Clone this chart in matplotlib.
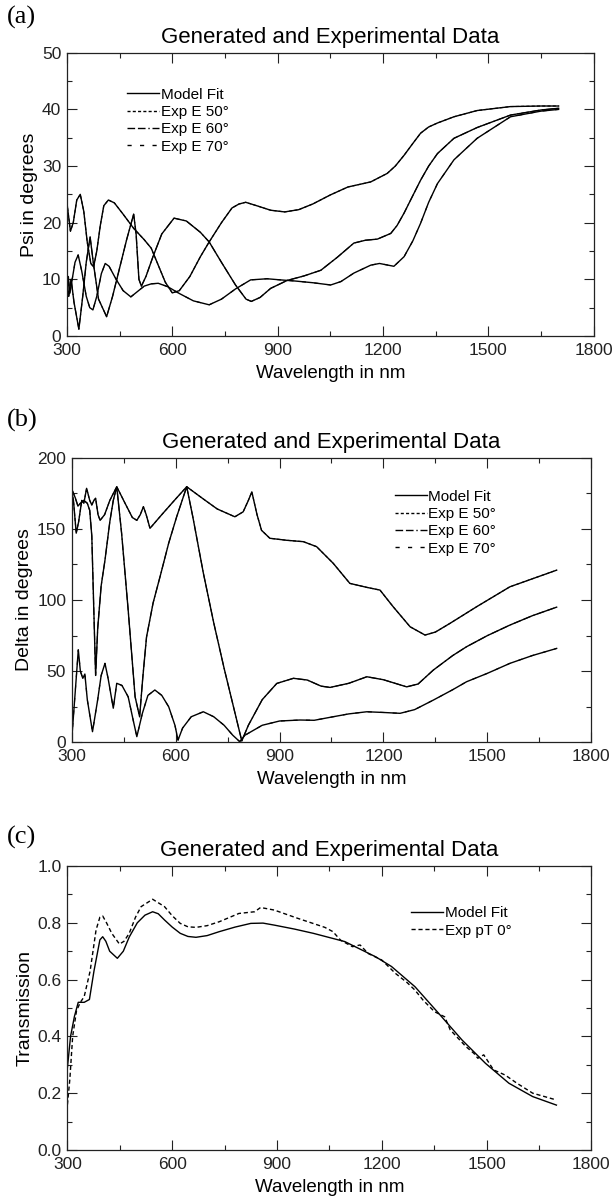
import matplotlib
matplotlib.use("Agg")
import matplotlib.pyplot as plt
from matplotlib.lines import Line2D
from matplotlib.ticker import MultipleLocator

plt.rcParams['font.family'] = ['Liberation Sans', 'DejaVu Sans']
plt.rcParams['lines.scale_dashes'] = False

# (a) Psi, model fit (exp data sits on top of it)
psi50_nm = [300, 305, 310, 318, 328, 338, 348, 358, 368, 376, 385, 395, 405, 418, 435, 460, 490, 520,
            540, 560, 580, 600, 620, 650, 680, 705, 740, 770, 790, 809, 840, 880, 920, 960, 1000, 1050,
            1100, 1165, 1212, 1235, 1260, 1285, 1307, 1330, 1355, 1402, 1468, 1563, 1650, 1700]
psi50 = [23.5, 21, 18.5, 20, 24, 25, 22, 16.5, 12.8, 12.2, 15, 19.5, 23, 24, 23.5, 21.5, 19, 17,
         15.5, 12.5, 9.5, 7.6, 8, 10.5, 14, 16.6, 20, 22.6, 23.3, 23.6, 23, 22.2, 21.9, 22.3, 23.3, 24.9,
         26.3, 27.2, 28.7, 30, 31.9, 34, 35.8, 36.9, 37.6, 38.7, 39.8, 40.5, 40.6, 40.6]
psi60_nm = [300, 305, 312, 320, 334, 345, 355, 366, 375, 390, 413, 430, 450, 470, 490, 497, 505, 512,
            525, 545, 570, 605, 640, 680, 705, 740, 780, 810, 825, 850, 880, 927, 975, 1023, 1070,
            1117, 1150, 1184, 1222, 1240, 1260, 1285, 1307, 1330, 1355, 1402, 1468, 1563, 1650, 1700]
psi60 = [9.5, 7, 10, 6, 1.2, 7, 13, 17.5, 13, 6.5, 3.4, 7, 12, 17, 21.5, 18, 10, 8.8,
         10.5, 14, 18, 20.8, 20.3, 18.3, 16.6, 13, 9, 6.5, 6.1, 6.8, 8.4, 9.8, 10.6, 11.6, 13.9,
         16.4, 16.9, 17.1, 18.1, 19.5, 21.7, 24.8, 27.5, 30, 32.2, 34.9, 36.8, 39, 39.9, 40.2]
psi70_nm = [300, 304, 308, 315, 323, 332, 342, 355, 365, 374, 385, 398, 409, 420, 440, 460, 482, 500,
            520, 540, 560, 587, 620, 660, 705, 740, 780, 823, 870, 908, 950, 1000, 1051, 1080, 1117,
            1165, 1190, 1231, 1260, 1285, 1307, 1330, 1355, 1402, 1468, 1563, 1650, 1700]
psi70 = [7, 10.5, 7.5, 10, 13, 14.3, 11.5, 7, 5, 4.6, 7, 11, 12.8, 12.3, 10, 8, 6.9, 7.8,
         8.8, 9.2, 9.3, 8.7, 7.5, 6.2, 5.5, 6.5, 8.3, 9.9, 10.1, 9.9, 9.7, 9.4, 9.0, 9.6, 11.1,
         12.5, 12.8, 12.3, 14, 16.8, 19.9, 23.6, 26.9, 31.1, 34.9, 38.7, 39.7, 40.0]

# (b) Delta
del50_nm = [300, 305, 313, 320, 329, 335, 343, 352, 358, 364, 369, 376, 382, 395, 410, 430, 454, 475,
            488, 498, 507, 515, 526, 560, 600, 632, 680, 720, 771, 795, 810, 820, 835, 848, 872, 920,
            969, 1007, 1055, 1103, 1152, 1190, 1228, 1277, 1320, 1350, 1392, 1469, 1565, 1700]
del50 = [176, 170, 147, 155, 170, 168, 178.5, 170, 166.8, 170, 171.5, 160, 156, 160, 170, 179.6, 168, 158,
         156, 160, 165.6, 160, 150.4, 160, 171, 179.6, 171, 164, 158.5, 162, 170, 176, 160, 149, 143.4, 142,
         141, 137.5, 125.8, 111.7, 108.9, 107, 95.3, 81.2, 75.4, 77.5, 83.6, 95.3, 109.3, 121]
del60_nm = [300, 310, 318, 325, 335, 345, 352, 358, 363, 369, 375, 385, 396, 410, 420, 430, 444, 463,
            483, 496, 505, 516, 535, 555, 580, 603, 632, 650, 680, 710, 740, 765, 791, 810, 850, 892,
            940, 980, 1020, 1046, 1100, 1152, 1200, 1267, 1300, 1344, 1400, 1440, 1500, 1565, 1630, 1700]
del60 = [178, 172, 166, 168, 170, 168, 163, 145, 100, 47, 80, 110, 128, 155, 170, 179.6, 147, 93,
         32, 18, 45, 74, 98, 116.4, 140, 158.5, 179.6, 158, 119, 84, 52, 27, 1, 12, 30, 41.4,
         45, 43.8, 39.5, 38.6, 41.5, 46.1, 44, 39, 41, 50.8, 61, 67.2, 75, 82.4, 89, 95]
del70_nm = [300, 310, 319, 325, 332, 338, 345, 360, 375, 385, 396, 405, 420, 430, 445, 463, 478, 488,
            504, 520, 540, 560, 580, 598, 607, 620, 645, 680, 710, 740, 765, 785, 800, 850, 900, 959,
            1000, 1055, 1100, 1152, 1200, 1248, 1290, 1344, 1400, 1440, 1500, 1565, 1630, 1700]
del70 = [2, 35, 65, 50, 45, 48, 30, 7.5, 30, 47, 55.5, 45, 24, 41.5, 40, 32, 15, 4,
         20.4, 33, 36.8, 33, 25, 12, 1.6, 10, 18, 21.5, 18, 12, 5, 0.5, 5, 12, 15, 15.7,
         15.5, 18, 20, 21.5, 21, 20.4, 23, 29.7, 37, 42.6, 48.5, 55.5, 61, 66]

# (c) Transmission
tfit_nm = [300, 309, 320, 331, 348, 363, 376, 393, 401, 410, 421, 443, 460, 477, 500, 522, 544, 560, 578,
           600, 623, 645, 668, 700, 735, 780, 825, 860, 892, 950, 1004, 1094, 1183, 1228, 1295, 1363,
           1430, 1497, 1564, 1632, 1700]
tfit = [0.29, 0.40, 0.47, 0.52, 0.52, 0.53, 0.63, 0.74, 0.751, 0.735, 0.70, 0.675, 0.70, 0.75, 0.80,
        0.827, 0.839, 0.832, 0.81, 0.785, 0.763, 0.752, 0.749, 0.755, 0.769, 0.785, 0.798, 0.799, 0.792,
        0.778, 0.763, 0.734, 0.68, 0.646, 0.575, 0.481, 0.387, 0.305, 0.235, 0.188, 0.158]
texp_nm = [300, 307, 315, 326, 337, 348, 365, 382, 393, 401, 412, 427, 449, 462, 477, 495, 511, 544, 578,
           600, 623, 645, 668, 700, 735, 791, 836, 853, 892, 959, 1037, 1060, 1082, 1116, 1138, 1161, 1200,
           1239, 1273, 1295, 1318, 1351, 1380, 1396, 1441, 1464, 1475, 1492, 1520, 1553, 1587, 1632, 1700]
texp = [0.16, 0.25, 0.40, 0.49, 0.52, 0.54, 0.63, 0.775, 0.82, 0.824, 0.80, 0.763, 0.725, 0.735, 0.763,
        0.82, 0.857, 0.883, 0.857, 0.825, 0.798, 0.786, 0.784, 0.79, 0.804, 0.833, 0.839, 0.854, 0.845,
        0.816, 0.784, 0.769, 0.739, 0.716, 0.722, 0.692, 0.669, 0.622, 0.589, 0.563, 0.528, 0.487, 0.469,
        0.423, 0.364, 0.340, 0.323, 0.335, 0.282, 0.264, 0.235, 0.2, 0.176]

# dash patterns in points
DASH_50 = (0, (2.2, 1.6))
DASH_60 = (0, (5.5, 2, 5.5, 2, 1, 2))
DASH_70 = (0, (3, 6))
DASH_PT = (0, (3, 2))
LW = 1.0
LEG = dict(loc='upper left', frameon=False, fontsize=11, handlelength=2.1, handletextpad=0.1,
           labelspacing=0.22, borderpad=0, borderaxespad=0)


def style_axes(ax, ymax, ymajor, yminor, ylabel):
    ax.set_xlim(300, 1800)
    ax.set_ylim(0, ymax)
    ax.xaxis.set_major_locator(MultipleLocator(300))
    ax.xaxis.set_minor_locator(MultipleLocator(150))
    ax.yaxis.set_major_locator(MultipleLocator(ymajor))
    ax.yaxis.set_minor_locator(MultipleLocator(yminor))
    ax.tick_params(which='both', direction='in', top=True, right=True, labelsize=12.5,
                   width=0.8, colors='#222222')
    ax.tick_params(axis='x', pad=5)
    ax.tick_params(axis='y', pad=4)
    ax.tick_params(which='major', length=7)
    ax.tick_params(which='minor', length=3.5)
    for s in ax.spines.values():
        s.set_linewidth(0.9)
        s.set_color('#222222')
    ax.set_title('Generated and Experimental Data', fontsize=16, pad=7)
    ax.set_xlabel('Wavelength in nm', fontsize=13.5, labelpad=5)
    ax.set_ylabel(ylabel, fontsize=14, labelpad=3)


fig = plt.figure(figsize=(6.14, 12.02), dpi=100)

ang_handles = [Line2D([], [], color='k', lw=LW),
               Line2D([], [], color='k', lw=LW, linestyle=DASH_50),
               Line2D([], [], color='k', lw=LW, linestyle=DASH_60),
               Line2D([], [], color='k', lw=LW, linestyle=DASH_70)]
ang_labels = ['Model Fit', 'Exp E 50°', 'Exp E 60°', 'Exp E 70°']

# panel (a)
ax1 = fig.add_axes([0.109, 0.7205, 0.858, 0.2356])
for nm, vals, ls in [(psi50_nm, psi50, DASH_50), (psi60_nm, psi60, DASH_60), (psi70_nm, psi70, DASH_70)]:
    ax1.plot(nm, vals, color='k', lw=LW)
    ax1.plot(nm, vals, color='k', lw=LW * 0.8, linestyle=ls)
style_axes(ax1, 50, 10, 5, 'Psi in degrees')
ax1.legend(ang_handles, ang_labels, bbox_to_anchor=(0.114, 0.877), **LEG)

# panel (b)
ax2 = fig.add_axes([0.1168, 0.3824, 0.8462, 0.2368])
for nm, vals, ls in [(del50_nm, del50, DASH_50), (del60_nm, del60, DASH_60), (del70_nm, del70, DASH_70)]:
    ax2.plot(nm, vals, color='k', lw=LW)
    ax2.plot(nm, vals, color='k', lw=LW * 0.8, linestyle=ls)
style_axes(ax2, 200, 50, 25, 'Delta in degrees')
ax2.legend(ang_handles, ang_labels, bbox_to_anchor=(0.622, 0.888), **LEG)

# panel (c)
ax3 = fig.add_axes([0.1098, 0.0433, 0.8533, 0.2362])
ax3.plot(tfit_nm, tfit, color='k', lw=LW, label='Model Fit')
ax3.plot(texp_nm, texp, color='k', lw=LW, linestyle=DASH_PT, label='Exp pT 0°')
style_axes(ax3, 1.0, 0.2, 0.1, 'Transmission')
ax3.legend(bbox_to_anchor=(0.656, 0.858), **LEG)

for label, ypix in [('(a)', 17), ('(b)', 420), ('(c)', 837)]:
    fig.text(0.012, 1 - ypix / 1202, label, family='Liberation Serif', fontsize=19, va='center')

fig.savefig('out.png', dpi=100)
